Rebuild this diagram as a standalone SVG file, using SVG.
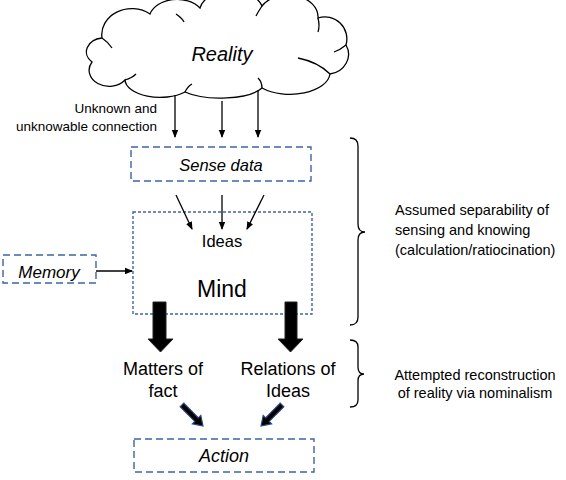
<svg xmlns="http://www.w3.org/2000/svg" width="566" height="480" viewBox="0 0 566 480">
<style>
text{font-family:"Liberation Sans",Arial,sans-serif;fill:#000}
.it{font-style:italic}
.dash{fill:none;stroke:#3d64a6;stroke-width:1.4;stroke-dasharray:7,4}
.dot{fill:none;stroke:#3d64a6;stroke-width:1.4;stroke-dasharray:3,2}
.ln{fill:none;stroke:#000;stroke-width:1.3}
.blk{fill:#000;stroke:#222;stroke-width:1}
.nav{fill:#000;stroke:#2b4a80;stroke-width:1.2;stroke-linejoin:miter}
.br{fill:none;stroke:#000;stroke-width:1.3}
</style>
<defs>
<marker id="ah" markerWidth="8" markerHeight="8" refX="7" refY="4" orient="auto" markerUnits="userSpaceOnUse">
<path d="M0,0.8 L8,4 L0,7.2 Z" fill="#000"/>
</marker>
</defs>
<rect width="566" height="480" fill="#fff"/>

<g id="reality">
<path d="M102,38 A30 26 0 0 1 150,14 A28 20 0 0 1 200,8 A32 22 0 0 1 262,6 A30 22 0 0 1 318,18 A22 22 0 0 1 346,45 A22 20 0 0 1 330,74 A40 22 0 0 1 262,88 A45 16 0 0 1 185,92 A35 18 0 0 1 125,80 A20 16 0 0 1 92,62 A18 14 0 0 1 102,38 Z" fill="#fff" stroke="#000" stroke-width="1.3"/>
<path d="M102,38 Q108,42 112,48" class="ln"/>
<path d="M176,14 Q182,18 184,22" class="ln"/>
<path d="M262,6 Q258,12 256,16" class="ln"/>
<path d="M318,18 Q320,26 318,32" class="ln"/>
<path d="M346,45 Q340,50 334,52" class="ln"/>
<path d="M330,74 Q318,62 298,58" class="ln"/>
<path d="M262,88 Q262,82 258,78" class="ln"/>
<path d="M185,92 Q188,86 192,84" class="ln"/>
<path d="M125,80 Q132,78 136,74" class="ln"/>
<text x="222" y="61" font-size="20" text-anchor="middle" class="it">Reality</text>
</g>

<g id="unknown-label">
<text x="157" y="113" font-size="13.5" text-anchor="end">Unknown and</text>
<text x="157" y="131" font-size="13.5" text-anchor="end">unknowable connection</text>
</g>

<g id="sense-data">
<rect x="131" y="147" width="180" height="34" class="dash"/>
<text x="221" y="171" font-size="16.5" text-anchor="middle" class="it">Sense data</text>
</g>

<g id="mind">
<rect x="133" y="212" width="179" height="102" class="dot"/>
<text x="222" y="247" font-size="16.5" text-anchor="middle">Ideas</text>
<text x="222" y="297" font-size="23" text-anchor="middle">Mind</text>
</g>

<g id="memory">
<rect x="3" y="255" width="93" height="28" class="dash"/>
<text x="49" y="278" font-size="17" text-anchor="middle" class="it">Memory</text>
</g>

<g id="matters-of-fact">
<text x="163" y="375" font-size="18" text-anchor="middle">Matters of</text>
<text x="163" y="397" font-size="18" text-anchor="middle">fact</text>
</g>

<g id="relations-of-ideas">
<text x="288" y="375" font-size="18" text-anchor="middle">Relations of</text>
<text x="288" y="397" font-size="18" text-anchor="middle">Ideas</text>
</g>

<g id="action">
<rect x="134" y="439" width="180" height="33" class="dash"/>
<text x="224" y="462" font-size="18" text-anchor="middle" class="it">Action</text>
</g>

<g id="brace-separability">
<path d="M350,138 Q358,138 358,146 L358,224 Q358,232 365,232 Q358,232 358,240 L358,317 Q358,325 350,325" class="br"/>
<text x="395" y="215" font-size="14.5">Assumed separability of</text>
<text x="395" y="235" font-size="14.5">sensing and knowing</text>
<text x="395" y="255" font-size="14.5">(calculation/ratiocination)</text>
</g>

<g id="brace-reconstruction">
<path d="M350,340 Q358,340 358,347 L358,367 Q358,374 364,374 Q358,374 358,381 L358,400 Q358,407 350,407" class="br"/>
<text x="475" y="380" font-size="14.5" text-anchor="middle">Attempted reconstruction</text>
<text x="475" y="398" font-size="14.5" text-anchor="middle">of reality via nominalism</text>
</g>

<g id="connectors">
<line x1="175" y1="95" x2="175" y2="137" class="ln" marker-end="url(#ah)"/>
<line x1="222" y1="101" x2="222" y2="137" class="ln" marker-end="url(#ah)"/>
<line x1="258" y1="90" x2="258" y2="137" class="ln" marker-end="url(#ah)"/>
<line x1="176" y1="195" x2="192" y2="229" class="ln" marker-end="url(#ah)"/>
<line x1="222" y1="195" x2="222" y2="229" class="ln" marker-end="url(#ah)"/>
<line x1="264" y1="195" x2="247" y2="229" class="ln" marker-end="url(#ah)"/>
<line x1="96" y1="271" x2="132" y2="271" class="ln" marker-end="url(#ah)"/>
<polygon points="153,302 166,302 166,339 173,339 160.5,352 148,339 153,339" class="blk"/>
<polygon points="285,302 297,302 297,339 303,339 290.5,352 278,339 285,339" class="blk"/>
<polygon points="180.2,406.8 194.8,421.4 192.4,423.8 203,426 200.8,415.4 198.4,417.8 183.8,403.2" class="nav"/>
<polygon points="283.8,406.8 269.2,421.4 271.6,423.8 261,426 263.2,415.4 265.6,417.8 280.2,403.2" class="nav"/>
</g>
</svg>
